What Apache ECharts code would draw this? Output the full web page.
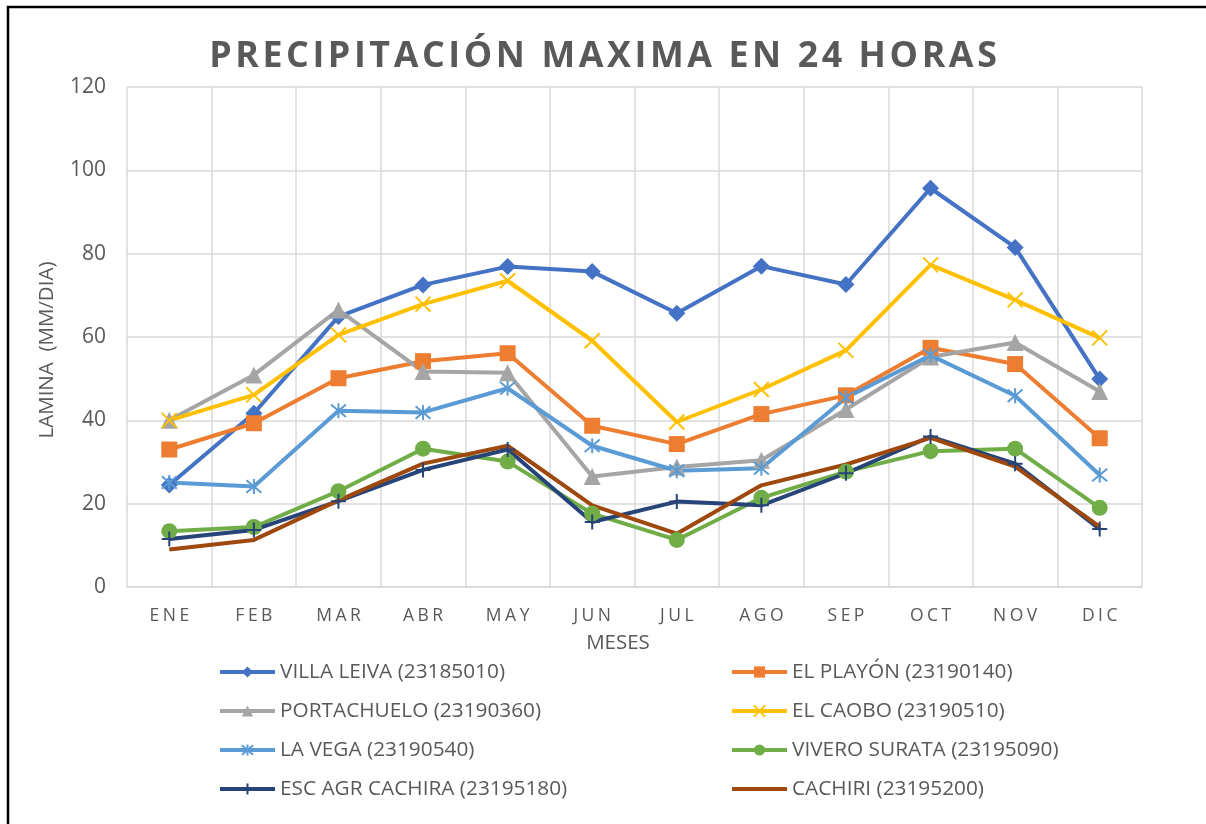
<!DOCTYPE html>
<html>
<head>
<meta charset="utf-8">
<script src="https://cdn.jsdelivr.net/npm/echarts@6/dist/echarts.min.js"></script>
<style>
  html, body { margin: 0; padding: 0; background: #fff; }
  #main { width: 1206px; height: 824px; }
</style>
</head>
<body>
<div id="main"></div>
<script>
// data
var months = ['ENE', 'FEB', 'MAR', 'ABR', 'MAY', 'JUN', 'JUL', 'AGO', 'SEP', 'OCT', 'NOV', 'DIC'];
var yTicks = [0, 20, 40, 60, 80, 100, 120];

var villaLeiva   = [24.5, 41.7, 64.9, 72.5, 76.9, 75.7, 65.7, 77.0, 72.6, 95.7, 81.5, 49.9];
var elPlayon     = [33.0, 39.3, 50.1, 54.2, 56.1, 38.7, 34.3, 41.5, 46.0, 57.4, 53.5, 35.7];
var portachuelo  = [40.0, 50.9, 66.5, 51.7, 51.4, 26.5, 28.8, 30.4, 42.6, 55.2, 58.7, 46.9];
var elCaobo      = [40.0, 46.1, 60.5, 67.9, 73.5, 59.1, 39.6, 47.4, 56.8, 77.3, 68.9, 59.8];
var laVega       = [25.1, 24.1, 42.3, 41.9, 47.7, 33.9, 27.9, 28.5, 45.4, 55.6, 45.9, 26.9];
var viveroSurata = [13.4, 14.4, 23.0, 33.2, 30.1, 17.6, 11.3, 21.4, 27.7, 32.6, 33.2, 19.0];
var escAgr       = [11.5, 13.7, 20.6, 28.1, 33.0, 15.6, 20.5, 19.6, 27.3, 36.1, 29.6, 13.9];
var cachiri      = [9.0, 11.3, 20.8, 29.6, 33.9, 19.6, 12.8, 24.4, 29.4, 35.8, 28.9, 14.5];

var names = [
  'VILLA LEIVA (23185010)', 'EL PLAYÓN (23190140)',
  'PORTACHUELO (23190360)', 'EL CAOBO (23190510)',
  'LA VEGA (23190540)', 'VIVERO SURATA (23195090)',
  'ESC AGR CACHIRA (23195180)', 'CACHIRI (23195200)'
];

var FONT = 'Open Sans';
var GREY = '#595959';

// no letterSpacing in echarts text, so pad with hair spaces
function spaced(s, n){
  var gap = new Array((n || 1) + 1).join('\u200A');
  return s.split('').join(gap);
}

var symX = 'path://M0,0L10,10M10,0L0,10';
var symStar = 'path://M0,0L10,10M10,0L0,10M5,-1L5,11';
var symPlus = 'path://M5,0L5,10M0,5L10,5';

function mk(name, data, color, symbol, size, stroke){
  var s = {
    name: name,
    type: 'line',
    data: data,
    symbol: symbol,
    symbolSize: size,
    showSymbol: symbol !== 'none',
    lineStyle: { color: color, width: 4 },
    itemStyle: { color: color },
    emphasis: { disabled: true },
    animation: false
  };
  if(stroke){
    s.itemStyle = { color: 'rgba(0,0,0,0)', borderColor: color, borderWidth: 2 };
  }
  return s;
}

var series = [
  mk(names[0], villaLeiva, '#4472C4', 'diamond', 17),
  mk(names[1], elPlayon, '#ED7D31', 'rect', 16),
  mk(names[2], portachuelo, '#A5A5A5', 'triangle', 17),
  mk(names[3], elCaobo, '#FFC000', symX, 15, true),
  mk(names[4], laVega, '#5B9BD5', symStar, 15, true),
  mk(names[5], viveroSurata, '#70AD47', 'circle', 16),
  mk(names[6], escAgr, '#264478', symPlus, 15, true),
  mk(names[7], cachiri, '#9E480E', 'none', 0)
];

var legendText = { color: GREY, fontSize: 20.8, fontFamily: FONT, lineHeight: 22 };

function legendCol(left, idx){
  return {
    orient: 'vertical',
    left: left,
    top: 656,
    itemWidth: 55,
    itemHeight: 14,
    itemGap: 17,
    lineStyle: { width: 4 },
    textStyle: legendText,
    data: idx.map(function(i){
      if(i === 7){
        // plain line, no marker
        return { name: names[i], icon: 'path://M0,0L55,0L55,4L0,4Z', itemStyle: { color: '#9E480E' } };
      }
      return { name: names[i] };
    })
  };
}

var myChart = echarts.init(document.getElementById('main'));

var option = {
  backgroundColor: '#fff',
  animation: false,
  title: {
    text: spaced('PRECIPITACIÓN MAXIMA EN 24 HORAS', 1),
    left: 'center',
    top: 34,
    textStyle: { color: GREY, fontSize: 35.8, fontWeight: 'bold', fontFamily: FONT }
  },
  grid: { left: 127, top: 87, right: 64, bottom: 237 },
  legend: [
    legendCol(213, [0, 2, 4, 6]),
    legendCol(725, [1, 3, 5, 7])
  ],
  xAxis: {
    type: 'category',
    data: months,
    boundaryGap: true,
    axisLine: { lineStyle: { color: '#D9D9D9', width: 1.5 } },
    axisTick: { show: false },
    splitLine: { show: true, lineStyle: { color: '#D9D9D9', width: 1.5 } },
    axisLabel: {
      color: GREY, fontSize: 17.5, fontFamily: FONT, margin: 20,
      formatter: function(v){ return spaced(v, 2); }
    }
  },
  yAxis: {
    type: 'value',
    min: yTicks[0],
    max: yTicks[yTicks.length - 1],
    interval: 20,
    axisLine: { show: false },
    axisTick: { show: false },
    splitLine: { lineStyle: { color: '#D9D9D9', width: 1.5 } },
    axisLabel: { color: GREY, fontSize: 21, fontFamily: FONT, margin: 21 }
  },
  graphic: [
    {
      type: 'text',
      x: 47,
      y: 350,
      rotation: Math.PI / 2,
      style: {
        text: 'LAMINA  (MM/DIA)', fill: GREY, fontSize: 20.5, fontFamily: FONT,
        align: 'center', verticalAlign: 'middle'
      }
    },
    {
      type: 'text',
      x: 618,
      y: 643,
      style: {
        text: 'MESES', fill: GREY, fontSize: 20.5, fontFamily: FONT,
        align: 'center', verticalAlign: 'middle'
      }
    },
    {
      type: 'polyline',
      silent: true,
      shape: { points: [[8, 830], [8, 7], [1210, 7]] },
      style: { stroke: '#000', lineWidth: 2.5, fill: null }
    }
  ],
  series: series
};

myChart.setOption(option);
</script>
</body>
</html>
